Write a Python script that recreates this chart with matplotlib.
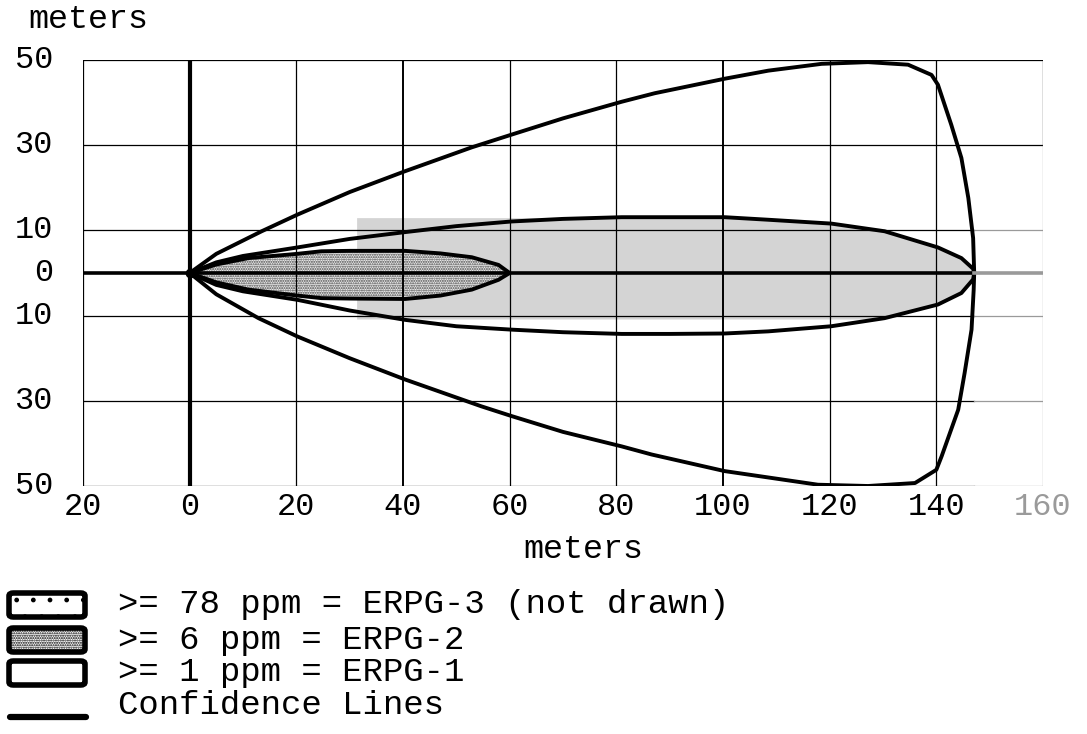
import matplotlib.pyplot as plt
from matplotlib.patches import FancyBboxPatch
from matplotlib.lines import Line2D
import numpy as np

plt.rcParams['font.family'] = ['Liberation Mono', 'DejaVu Sans Mono']
plt.rcParams['hatch.linewidth'] = 1.0

# confidence lines (meters downwind, meters crosswind)
conf_up_x = [0, 5, 13.5, 20.2, 30, 40.4, 52.9, 60.4, 70, 81, 87.2, 100.3, 108.5, 118.5, 127.2, 134.7, 139.1, 140.3, 142.8, 144.7, 146, 146.9, 147.1]
conf_up_y = [0, 4.5, 9.8, 13.7, 19, 23.9, 29.5, 32.5, 36.3, 40.2, 42.2, 45.6, 47.5, 49.1, 49.5, 48.9, 46.5, 44.2, 34.8, 27, 17.6, 8.2, 0]
conf_lo_x = [0, 5, 12.9, 20.2, 30, 40.4, 54.7, 60.4, 70, 81, 86.6, 100.3, 117.8, 127.2, 136, 140, 141, 144.1, 145.3, 146.6, 147, 147.1]
conf_lo_y = [0, -5, -10.6, -14.9, -20, -25, -31.3, -33.6, -37.3, -40.7, -42.6, -46.5, -49.7, -50, -49.3, -46.2, -43, -32.1, -23.5, -13.3, -4, 0]

# ERPG-1 footprint outline (>= 1 ppm)
erpg1_x = [0, 5, 10, 20.2, 30, 40.4, 50, 60.4, 70, 81, 90, 100.3, 108.5, 120.3, 130.3, 140.3, 144.7, 146.9, 147.1]
erpg1_up = [0, 2.5, 4, 6, 8, 9.6, 11, 12.1, 12.7, 13.1, 13.1, 13.1, 12.5, 11.6, 9.8, 6, 3.5, 1, 0]
erpg1_lo = [0, -2.8, -4.3, -6.3, -8.8, -11, -12.5, -13.3, -13.9, -14.3, -14.3, -14.2, -13.7, -12.5, -10.6, -7.4, -4.7, -1.5, 0]

# grey shaded band
grey_x = [31.3, 81, 90, 100.3, 108.5, 120.3, 128, 130.3, 140.3, 144.7, 146.9, 147.1]
grey_up = [13, 13, 13.1, 13.1, 12.5, 11.6, 10.3, 9.8, 6, 3.5, 1, 0]
grey_lo = [-10.8, -10.8, -10.8, -10.8, -10.8, -10.8, -10.8, -10.6, -7.4, -4.7, -1.5, 0]

# dotted inner footprint
inner_x = [0, 5, 11, 20.2, 24.7, 30, 40.4, 47, 52.9, 57.9, 60]
inner_up = [0, 2, 3.5, 4.5, 5.1, 5.2, 5.2, 4.6, 3.7, 1.9, 0]
inner_lo = [0, -2.2, -3.9, -5.3, -5.9, -6.0, -6.1, -5.3, -3.9, -1.6, 0]

x_ticks = [-20, 0, 20, 40, 60, 80, 100, 120, 140, 160]
y_ticks = [50, 30, 10, 0, -10, -30, -50]
legend_labels = ['>= 78 ppm = ERPG-3 (not drawn)', '>= 6 ppm = ERPG-2',
                 '>= 1 ppm = ERPG-1', 'Confidence Lines']

fig = plt.figure(figsize=(10.87, 7.34), dpi=100)
ax = fig.add_axes([83 / 1087, 1 - 486 / 734, 960 / 1087, 426 / 734])
ax.set_xlim(-20, 160)
ax.set_ylim(-50, 50)
ax.axis('off')

lw = 2.8
grey = '#9a9a9a'

ax.fill_between(grey_x, grey_lo, grey_up, color='#d4d4d4', lw=0, zorder=1)
ax.fill_between(inner_x, inner_lo, inner_up, facecolor='#eeeeee', edgecolor='#444444',
                hatch='.......', lw=0, zorder=2)

# grid, with the faded right-hand part
for y in y_ticks:
    if y == 0:
        continue
    if y >= 30:
        ax.plot([-20, 160], [y, y], color='black', lw=0.9, zorder=3)
    else:
        ax.plot([-20, 147], [y, y], color='black', lw=0.9, zorder=3)
        ax.plot([147, 160], [y, y], color=grey, lw=0.9, zorder=3)
for x in x_ticks[1:-1]:
    ax.plot([x, x], [-50, 50], color='black', lw=1.4 if x in (40, 100) else 0.9, zorder=3)
ax.plot([-20, -20], [-50, 50], color='black', lw=0.9, zorder=3)
ax.plot([160, 160], [30, 50], color='black', lw=0.9, zorder=3)
ax.plot([160, 160], [-50, 30], color=grey, lw=0.9, zorder=3)
ax.plot([0, 0], [-50, 50], color='black', lw=3, zorder=5)
ax.plot([-20, 147], [0, 0], color='black', lw=2.6, zorder=5)
ax.plot([147, 160], [0, 0], color=grey, lw=2.6, zorder=5)

ax.plot(inner_x + inner_x[::-1], inner_up + inner_lo[::-1], color='black', lw=lw, zorder=4)
ax.plot(erpg1_x + erpg1_x[::-1], erpg1_up + erpg1_lo[::-1], color='black', lw=lw, zorder=4)
ax.plot(conf_up_x, conf_up_y, color='black', lw=lw, zorder=4, solid_capstyle='round',
        solid_joinstyle='round')
ax.plot(conf_lo_x, conf_lo_y, color='black', lw=lw, zorder=4, solid_capstyle='round',
        solid_joinstyle='round')
ax.plot([0], [0], 'o', color='black', ms=6, zorder=6)

# tick labels (absolute values, as in the original)
for y in y_ticks:
    ax.text(-20 - 30 / 5.335, y, str(abs(y)), ha='right', va='center', fontsize=23)
for x in x_ticks:
    ax.text(x, -50 - 21 / 4.26, str(abs(x)), ha='center', va='center', fontsize=23,
            color=grey if x == 160 else 'black')

fig.text(28 / 1087, 1 - 20 / 734, 'meters', ha='left', va='center', fontsize=24)
fig.text(583 / 1087, 1 - 549 / 734, 'meters', ha='center', va='center', fontsize=24)

# legend
rows_y = [605, 640, 673, 706]
hatches = ['.', '.......', None]
for i, yy in enumerate(rows_y[:3]):
    box = FancyBboxPatch((9 / 1087, 1 - (yy + 12) / 734), 76 / 1087, 24 / 734,
                         boxstyle='round,pad=0,rounding_size=0.004',
                         transform=fig.transFigure, facecolor='white',
                         edgecolor='black', lw=4, hatch=hatches[i])
    fig.add_artist(box)
for i, yy in enumerate(rows_y):
    fig.text(118 / 1087, 1 - yy / 734, legend_labels[i], ha='left', va='center', fontsize=24.5)
fig.add_artist(Line2D([10 / 1087, 86 / 1087], [1 - 717 / 734, 1 - 717 / 734],
                      transform=fig.transFigure, color='black', lw=4.5, solid_capstyle='round'))

fig.savefig('out.png', dpi=100)
